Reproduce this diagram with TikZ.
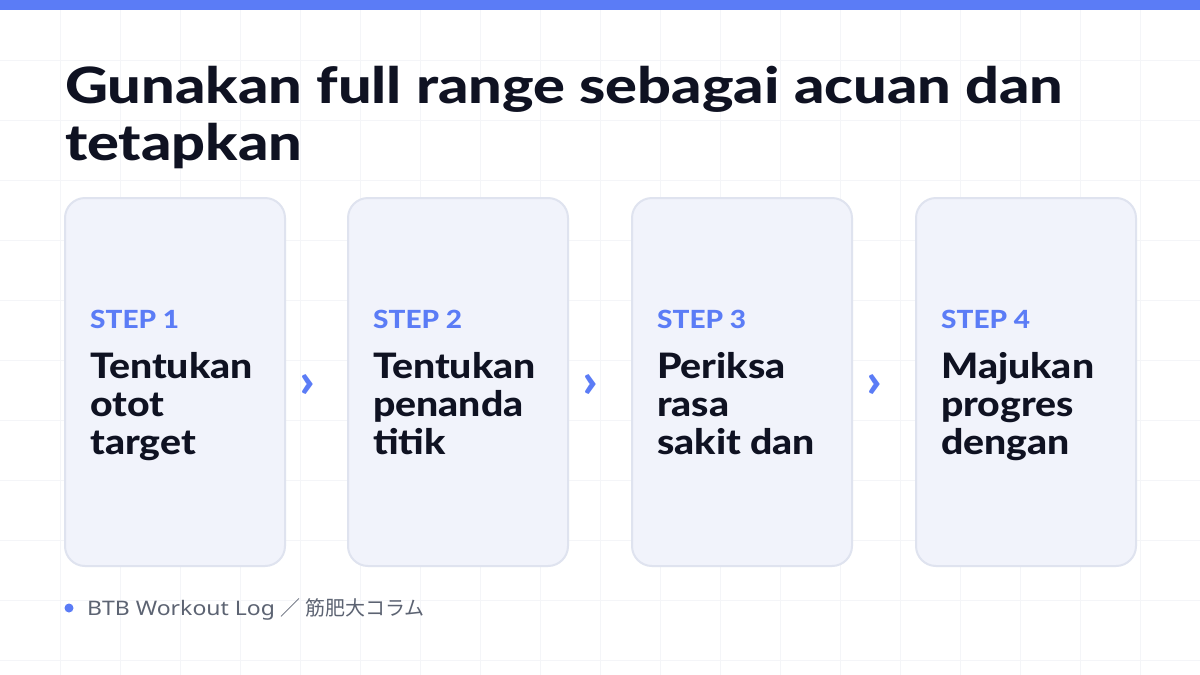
\documentclass[tikz,border=0pt]{standalone}
\usepackage{fontspec}
\setmainfont{Noto Sans}
\IfFontExistsTF{Lato Heavy}{%
  \newfontfamily\heavy{Lato Heavy}[FakeStretch=1.12]%
  \newfontfamily\heavytitle{Lato Heavy}[FakeStretch=1.19]}{%
  \newfontfamily\heavy{Lato Black}[FakeStretch=1.12]%
  \newfontfamily\heavytitle{Lato Black}[FakeStretch=1.19]}
\newfontfamily\footfont{Noto Sans}[FakeStretch=1.15]
\newfontfamily\cjkfont{Noto Sans CJK JP}
\definecolor{accent}{HTML}{5B7CF6}
\definecolor{ink}{HTML}{0F1222}
\definecolor{cardfill}{HTML}{F1F3FB}
\definecolor{cardline}{HTML}{DFE3EF}
\definecolor{gridc}{HTML}{F4F5F8}
\definecolor{foot}{HTML}{5C6372}
\begin{document}
\begin{tikzpicture}[x=1pt,y=-1pt,
  card/.style={draw=cardline,line width=2pt,fill=cardfill,rounded corners=20pt,minimum width=220pt,minimum height=368pt,inner sep=0pt},
  steplabel/.style={anchor=base west,inner sep=0pt,text=accent,font=\heavy\fontsize{25}{30}\selectfont},
  stepline/.style={anchor=base west,inner sep=0pt,text=ink,font=\heavy\fontsize{35}{38}\selectfont},
  chev/.style={text=accent,inner sep=0pt,font=\heavy\fontsize{48}{48}\selectfont},
  titleline/.style={anchor=base west,inner sep=0pt,text=ink,font=\heavytitle\fontsize{50}{57}\selectfont}]
\useasboundingbox (0,0) rectangle (1200,675);
\fill[white] (0,0) rectangle (1200,675);
\foreach \gx in {60,120,...,1140} \draw[gridc,line width=1pt] (\gx,0) -- (\gx,675);
\foreach \gy in {60,120,...,660} \draw[gridc,line width=1pt] (0,\gy) -- (1200,\gy);
\fill[accent] (0,0) rectangle (1200,10);
\node[titleline] (t1) at (65,103) {Gunakan full range sebagai acuan dan};
\node[titleline] (t2) at (65,160) {tetapkan};
\node[card] (c1) at (175,382) {};
\node[card] (c2) at (458,382) {};
\node[card] (c3) at (742,382) {};
\node[card] (c4) at (1026,382) {};
\node[steplabel] (s1) at (90,328) {STEP 1};
\node[steplabel] (s2) at (373,328) {STEP 2};
\node[steplabel] (s3) at (657,328) {STEP 3};
\node[steplabel] (s4) at (941,328) {STEP 4};
\node[stepline] (l1a) at (90,378) {Tentukan};
\node[stepline] (l1b) at (90,416) {otot};
\node[stepline] (l1c) at (90,454) {target};
\node[stepline] (l2a) at (373,378) {Tentukan};
\node[stepline] (l2b) at (373,416) {penanda};
\node[stepline] (l2c) at (373,454) {titik};
\node[stepline] (l3a) at (657,378) {Periksa};
\node[stepline] (l3b) at (657,416) {rasa};
\node[stepline] (l3c) at (657,454) {sakit dan};
\node[stepline] (l4a) at (941,378) {Majukan};
\node[stepline] (l4b) at (941,416) {progres};
\node[stepline] (l4c) at (941,454) {dengan};
\node[chev] (a1) at (307,386) {›};
\node[chev] (a2) at (590,386) {›};
\node[chev] (a3) at (874,386) {›};
\fill[accent] (69,608) circle (4.5);
\node[anchor=base west,inner sep=0pt,text=foot,font=\footfont\fontsize{20}{24}\selectfont] (ft) at (87,615) {BTB Workout Log {\cjkfont ／ 筋肥大コラム}};
\end{tikzpicture}
\end{document}
